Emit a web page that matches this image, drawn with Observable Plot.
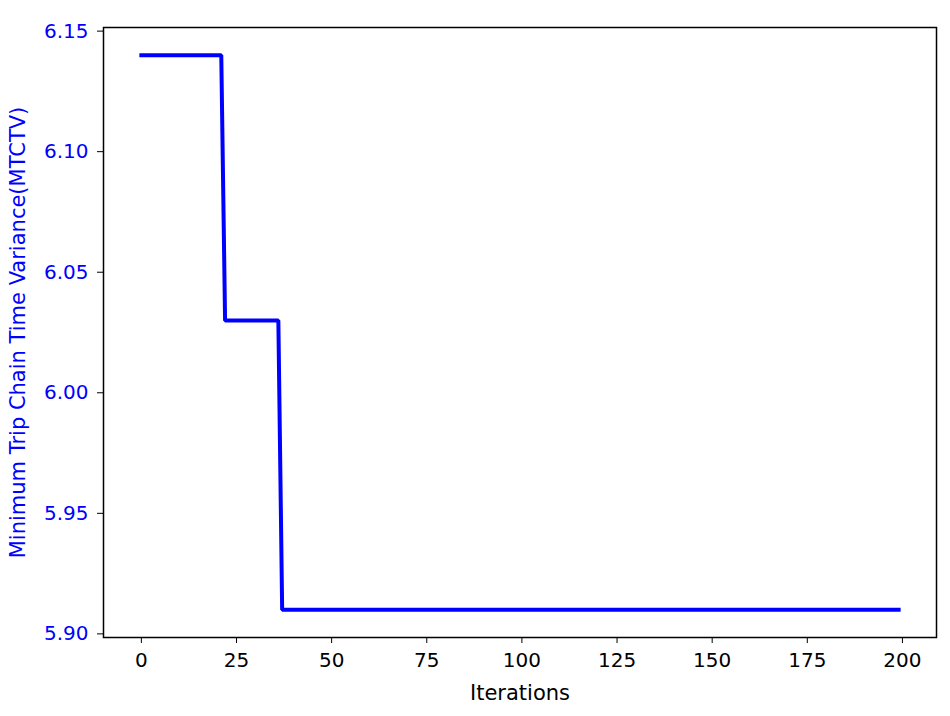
<!DOCTYPE html>
<html>
<head>
<meta charset="utf-8">
<script src="https://cdn.jsdelivr.net/npm/d3@7"></script>
<script src="https://cdn.jsdelivr.net/npm/@observablehq/plot@0.6"></script>
<style>
  html, body { margin: 0; padding: 0; background: #fff; }
  #chart svg { display: block; }
  #chart svg [aria-label="x-axis label"] text, #chart svg [aria-label="y-axis label"] text { font-size: 21px; }
</style>
</head>
<body>
<div id="chart"></div>
<script>
// Best-so-far MTCTV by iteration (breakpoints of the step curve)
const iterations = [0, 21, 22, 36, 37, 199];
const mtctv = [6.14, 6.14, 6.03, 6.03, 5.91, 5.91];
const xTicks = [0, 25, 50, 75, 100, 125, 150, 175, 200];
const yTicks = [5.90, 5.95, 6.00, 6.05, 6.10, 6.15];
const xLabel = "Iterations";
const yLabel = "Minimum Trip Chain Time Variance(MTCTV)";

const data = iterations.map((it, i) => ({iteration: it, value: mtctv[i]}));

const xPad = (d3.max(iterations) - d3.min(iterations)) * 0.05;
const yPad = (d3.max(mtctv) - d3.min(mtctv)) * 0.05;

const FS = 20;

const chart = Plot.plot({
  width: 950,
  height: 716,
  marginLeft: 103,
  marginRight: 14,
  marginTop: 27,
  marginBottom: 79,
  style: {fontFamily: "DejaVu Sans", fontSize: FS + "px", background: "#fff", color: "black"},
  x: {domain: [d3.min(iterations) - xPad, d3.max(iterations) + xPad]},
  y: {domain: [d3.min(mtctv) - yPad, d3.max(mtctv) + yPad]},
  marks: [
    Plot.line(data, {x: "iteration", y: "value", stroke: "#0000ff", strokeWidth: 4, strokeLinejoin: "miter", strokeLinecap: "square"}),
    Plot.frame({stroke: "black", strokeWidth: 1.5}),
    Plot.axisX({ticks: xTicks, tickSize: 6, tickPadding: 9, fontSize: FS, stroke: "black", fill: "black",
      label: xLabel, labelAnchor: "center", labelArrow: "none", labelOffset: 62}),
    Plot.axisY({ticks: yTicks, tickFormat: d3.format(".2f"), tickSize: 6, tickPadding: 9, fontSize: FS, stroke: "black", fill: "#0000ff",
      label: yLabel, labelAnchor: "center", labelArrow: "none", labelOffset: 93})
  ]
});
chart.querySelectorAll('[aria-label="x-axis label"] text, [aria-label="y-axis label"] text').forEach(t => t.setAttribute("font-size", 21));
document.getElementById("chart").appendChild(chart);
</script>
</body>
</html>
